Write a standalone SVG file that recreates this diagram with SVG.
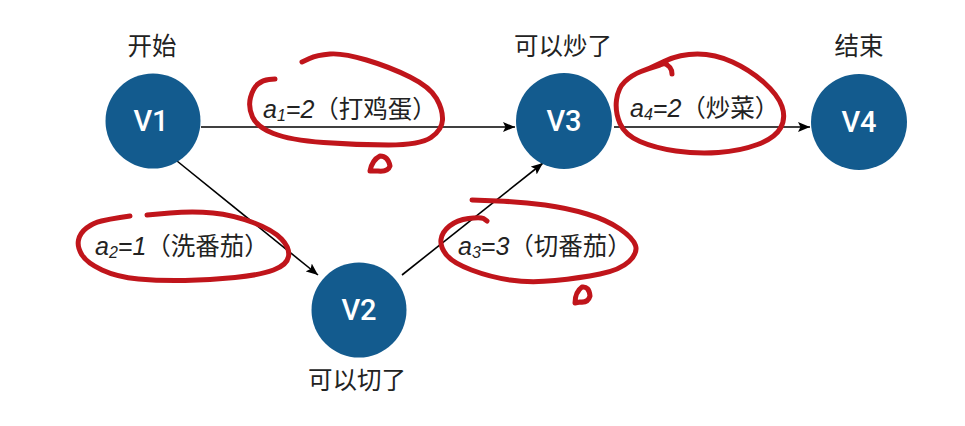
<svg xmlns="http://www.w3.org/2000/svg" width="965" height="426" viewBox="0 0 965 426">
  <defs>
    <marker id="arrow" viewBox="0 0 12 10" refX="12" refY="5" markerWidth="12" markerHeight="10" markerUnits="userSpaceOnUse" orient="auto">
      <path d="M0,0 L12,5 L0,10 L2.5,5 Z" fill="#000"/>
    </marker>
  </defs>
  <style>
    .node circle { fill: #135b8e; }
    .node text.v { fill: #fff; font-family: Roboto, "Liberation Sans", Arial, sans-serif; font-weight: 500; font-size: 29px; text-anchor: middle; }
    .cap { fill: #222; font-family: "Noto Sans CJK SC", "Noto Sans", sans-serif; font-size: 24.5px; text-anchor: middle; }
    .edge { stroke: #000; stroke-width: 1.6; fill: none; marker-end: url(#arrow); }
    .lbl { fill: #222; font-family: "Noto Sans CJK SC", "Noto Sans", sans-serif; font-size: 24.5px; }
    .lat { font-family: "Liberation Sans", Arial, sans-serif; font-style: italic; font-size: 25px; }
    .sub { font-family: "Liberation Sans", Arial, sans-serif; font-style: italic; font-size: 16px; }
    .red { stroke: #c0151b; stroke-width: 5; fill: none; stroke-linecap: round; stroke-linejoin: round; }
  </style>
  <rect width="965" height="426" fill="#fff"/>

  <g id="connectors">
    <line class="edge" x1="201" y1="127" x2="515" y2="127"/>
    <line class="edge" x1="614" y1="127" x2="810" y2="127"/>
    <line class="edge" x1="177" y1="161" x2="318" y2="275"/>
    <line class="edge" x1="402" y1="275" x2="543" y2="163"/>
  </g>

  <g id="edge-labels">
    <text class="lbl" x="263" y="118"><tspan class="lat">a</tspan><tspan class="sub" dy="3">1</tspan><tspan class="lat" dy="-3">=2</tspan>（打鸡蛋）</text>
    <text class="lbl" x="630" y="117"><tspan class="lat">a</tspan><tspan class="sub" dy="3">4</tspan><tspan class="lat" dy="-3">=2</tspan>（炒菜）</text>
    <text class="lbl" x="95" y="255"><tspan class="lat">a</tspan><tspan class="sub" dy="3">2</tspan><tspan class="lat" dy="-3">=1</tspan>（洗番茄）</text>
    <text class="lbl" x="458" y="255"><tspan class="lat">a</tspan><tspan class="sub" dy="3">3</tspan><tspan class="lat" dy="-3">=3</tspan>（切番茄）</text>
  </g>

  <g id="V1" class="node">
    <circle cx="153" cy="121" r="47.5"/>
    <text class="v" x="151" y="130.5">V1</text>
    <text class="cap" x="152" y="55">开始</text>
  </g>
  <g id="V2" class="node">
    <circle cx="359" cy="310" r="47.5"/>
    <text class="v" x="359" y="320">V2</text>
    <text class="cap" x="357" y="389">可以切了</text>
  </g>
  <g id="V3" class="node">
    <circle cx="564" cy="121" r="48"/>
    <text class="v" x="564" y="131">V3</text>
    <text class="cap" x="563" y="55">可以炒了</text>
  </g>
  <g id="V4" class="node">
    <circle cx="859" cy="122" r="48"/>
    <text class="v" x="859" y="132">V4</text>
    <text class="cap" x="859" y="55">结束</text>
  </g>

  <g id="annotations">
    <path class="red" d="M275,79 L269,79.5 Q263,80 258,84 Q253,88 250.5,97.5 Q248,107 252.5,117 Q257,127 273.5,133.5 Q290,140 323.5,142.5 Q357,145 388.5,145 Q420,145 431,137.5 Q442,130 442.5,120 Q443,110 436.5,98.5 Q430,87 410,77 Q390,67 366.5,60 Q343,53 330,54 Q317,55 309.5,58.5 L302,62"/>
    <path class="red" stroke-width="5.5" d="M370,171 Q372,160 380,156 Q388,156 390,166 Q388,172 378,171 Z"/>
    <path class="red" d="M147,215 L170,213 Q193,211 213,213 Q233,215 253,222.5 Q273,230 281.5,239 Q290,248 288.5,256.5 Q287,265 273.5,270 Q260,275 235,277.5 Q210,280 185,280.5 Q160,281 138.5,279 Q117,277 102,270 Q87,263 82,255 Q77,247 78.5,240 Q80,233 86.5,228 Q93,223 101.5,221 Q110,219 120,217.5 L130,216"/>
    <path class="red" d="M487,221 L483.5,218.5 Q480,217 468.5,218.5 Q457,220 449.5,226 Q442,232 441,239.5 Q440,247 446.5,255 Q453,263 471.5,270 Q490,277 510,280 Q530,283 555,280.5 Q580,278 600,274 Q620,270 629,261.5 Q638,253 635.5,245.5 Q633,238 620,229 Q607,220 587,214 Q567,208 545,205 Q523,202 497.5,201 L472,200"/>
    <path class="red" stroke-width="5.5" d="M575,303 Q575,292 582,287 Q589,286 590,296 Q588,303 580,302 Z"/>
    <path class="red" d="M650,68 L665,61 Q680,54 697.5,54 Q715,54 732.5,62 Q750,70 764,82.5 Q778,95 782,106.5 Q786,118 780.5,128 Q775,138 757.5,144.5 Q740,151 718.5,152.5 Q697,154 676,151 Q655,148 640,141.5 Q625,135 620,123.5 Q615,112 616.5,100 Q618,88 625,81.5 Q632,75 641,71.5 Q650,68 660,65 L666,63"/>
    <path class="red" d="M663,63 Q672,66 672,74"/>
  </g>
</svg>
